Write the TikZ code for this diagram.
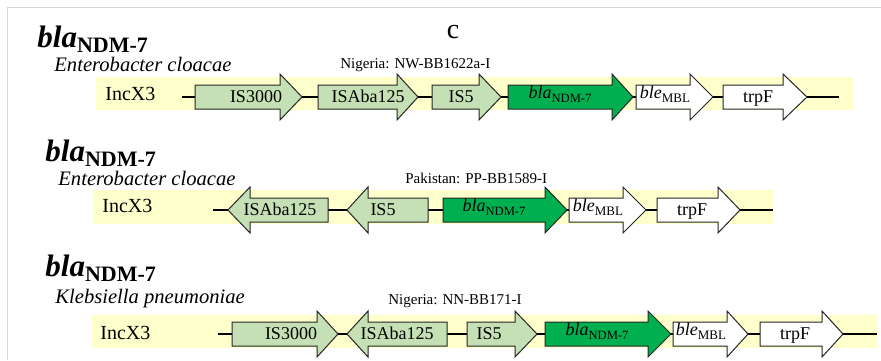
\documentclass[tikz,border=0pt]{standalone}
\usepackage{fontspec}
\setmainfont{Liberation Serif}
\usetikzlibrary{positioning}

\definecolor{isgreen}{HTML}{C5E0B4}
\definecolor{ndmgreen}{HTML}{00B050}
\definecolor{bandyellow}{HTML}{FFFFCC}
\definecolor{framegrey}{HTML}{D9D9D9}

% forward gene: left, head base, tip, centre line, style
\newcommand{\fwdgene}[5]{\filldraw[#5] (#1,#4-12) -- (#2,#4-12) -- (#2,#4-23) -- (#3,#4) -- (#2,#4+23) -- (#2,#4+12) -- (#1,#4+12) -- cycle;}
% reverse gene: tip, head base, right, centre line, style
\newcommand{\revgene}[5]{\filldraw[#5] (#3,#4-12) -- (#2,#4-12) -- (#2,#4-23) -- (#1,#4) -- (#2,#4+23) -- (#2,#4+12) -- (#3,#4+12) -- cycle;}
\newcommand{\blatitle}{{\fontsize{15.5}{16}\selectfont\bfseries\itshape bla}{\fontsize{11}{12}\selectfont\bfseries\raisebox{-2.5pt}[0pt][0pt]{NDM-7}}}
\newcommand{\blagene}{\textit{bla}{\fontsize{6.3}{7}\selectfont\raisebox{-2pt}{NDM-7}}}
\newcommand{\blegene}{\textit{ble}{\fontsize{6.5}{7}\selectfont\raisebox{-2pt}{MBL}}}

\begin{document}
\begin{tikzpicture}[x=0.5pt, y=-0.5pt]
\tikzset{band/.style={fill=bandyellow},
backbone/.style={line width=1.3pt},
isgene/.style={fill=isgreen,draw=black!85,line width=0.5pt},
ndmgene/.style={fill=ndmgreen,draw=black!85,line width=0.5pt},
plaingene/.style={fill=white,draw=black!85,line width=0.5pt},
genelabel/.style={font=\fontsize{9}{10}\selectfont,inner sep=0,anchor=base},
titlelabel/.style={inner sep=0,anchor=base west},
species/.style={font=\fontsize{10.3}{12}\selectfont\itshape,inner sep=0,anchor=base west},
isolate/.style={font=\fontsize{7.5}{9}\selectfont,inner sep=0,anchor=base west},
inclabel/.style={font=\fontsize{10}{12}\selectfont,inner sep=0,anchor=base west}}

\useasboundingbox (0,0) rectangle (881,360);
\draw[framegrey,line width=0.8pt] (7.5,360) -- (7.5,7.5) -- (881,7.5);

\node (panel) [inner sep=0,anchor=base,font=\fontsize{14}{16}\selectfont] at (453,38) {c};

%% Row 1
\node (t1) [titlelabel] at (37,47) {\blatitle};
\node (o1) [species] at (54,71) {Enterobacter cloacae};
\node (i1) [isolate] at (340,68) {Nigeria: NW-BB1622a-I};
\fill[band] (96,77) rectangle (853,110);
\node (inc1) [inclabel] at (105,100) {IncX3};
\coordinate (r1s) at (182,97);
\coordinate (r1e) at (839,97);
\draw[backbone] (r1s) -- (r1e);
\foreach \xa/\xb/\xc/\sty in {195/280/302/isgene, 318/397/418/isgene, 432/479/501/isgene,
  508/612/633/ndmgene, 636/690/713/plaingene, 723/783/807/plaingene}
  \fwdgene{\xa}{\xb}{\xc}{97}{\sty};
\foreach \u/\lab in {256/IS3000, 368/ISAba125, 461/IS5, 758/trpF}
  \node (g1-\lab) [genelabel] at (\u,102) {\lab};
\node (g1-bla) [genelabel] at (560,98) {\blagene};
\node (g1-ble) [genelabel] at (665,98) {\blegene};

%% Row 2
\node (t2) [titlelabel] at (45,161) {\blatitle};
\node (o2) [species] at (58,185) {Enterobacter cloacae};
\node (i2) [isolate] at (405,183) {Pakistan: PP-BB1589-I};
\fill[band] (93,190) rectangle (773,224);
\node (inc2) [inclabel] at (102,212) {IncX3};
\coordinate (r2s) at (213,210);
\coordinate (r2e) at (773,210);
\draw[backbone] (r2s) -- (r2e);
\revgene{228}{250}{328}{210}{isgene}
\revgene{347}{368}{428}{210}{isgene}
\foreach \xa/\xb/\xc/\sty in {443/545/567/ndmgene, 569/623/646/plaingene, 657/718/740/plaingene}
  \fwdgene{\xa}{\xb}{\xc}{210}{\sty};
\foreach \u/\lab in {280/ISAba125, 383/IS5, 692/trpF}
  \node (g2-\lab) [genelabel] at (\u,215) {\lab};
\node (g2-bla) [genelabel] at (494,211) {\blagene};
\node (g2-ble) [genelabel] at (598,211) {\blegene};

%% Row 3
\node (t3) [titlelabel] at (45,276) {\blatitle};
\node (o3) [species] at (55,303) {Klebsiella pneumoniae};
\node (i3) [isolate] at (388,304) {Nigeria: NN-BB171-I};
\fill[band] (92,315) rectangle (877,348);
\node (inc3) [inclabel] at (100,339) {IncX3};
\coordinate (r3s) at (218,334);
\coordinate (r3e) at (877,334);
\draw[backbone] (r3s) -- (r3e);
\fwdgene{232}{317}{338}{334}{isgene}
\revgene{347}{368}{447}{334}{isgene}
\foreach \xa/\xb/\xc/\sty in {467/515/537/isgene, 545/648/671/ndmgene,
  673/727/748/plaingene, 760/822/843/plaingene}
  \fwdgene{\xa}{\xb}{\xc}{334}{\sty};
\foreach \u/\lab in {291/IS3000, 397/ISAba125, 489/IS5, 795/trpF}
  \node (g3-\lab) [genelabel] at (\u,339) {\lab};
\node (g3-bla) [genelabel] at (597,335) {\blagene};
\node (g3-ble) [genelabel] at (701,335) {\blegene};

\end{tikzpicture}
\end{document}
